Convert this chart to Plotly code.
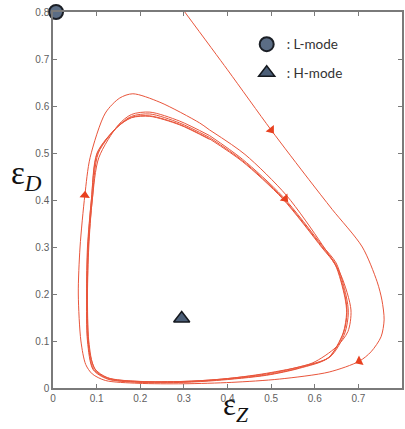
import plotly.graph_objects as go

# ---------------- data ----------------
x_ticks = [0, 0.1, 0.2, 0.3, 0.4, 0.5, 0.6, 0.7, 0.8]
y_ticks = [0, 0.1, 0.2, 0.3, 0.4, 0.5, 0.6, 0.7, 0.8]

# incoming trajectory from the top, going round the outermost loop
incoming_x = [0.302, 0.40, 0.50, 0.587, 0.64, 0.709, 0.743, 0.754, 0.759,
              0.752, 0.729, 0.702, 0.633, 0.519, 0.41, 0.30, 0.195, 0.12, 0.09,
              0.075, 0.064, 0.058, 0.062, 0.073, 0.085, 0.12, 0.153, 0.183,
              0.245, 0.336, 0.359]
incoming_y = [0.80, 0.677, 0.549, 0.443, 0.38, 0.30, 0.226, 0.187, 0.145,
              0.109, 0.077, 0.057, 0.034, 0.019, 0.012, 0.009, 0.010, 0.016, 0.03,
              0.05, 0.10, 0.20, 0.30, 0.41, 0.49, 0.585, 0.617, 0.626,
              0.608, 0.564, 0.549]

# second loop
loop2_x = [0.359, 0.44, 0.535, 0.617, 0.66, 0.683, 0.676, 0.649, 0.594, 0.50,
           0.40, 0.30, 0.20, 0.13, 0.10, 0.085, 0.08, 0.079, 0.082, 0.09,
           0.105, 0.15, 0.18, 0.222, 0.29, 0.359]
loop2_y = [0.549, 0.497, 0.41, 0.305, 0.24, 0.166, 0.12, 0.087, 0.053, 0.033,
           0.02, 0.014, 0.014, 0.02, 0.035, 0.07, 0.12, 0.20, 0.30, 0.40,
           0.49, 0.56, 0.582, 0.587, 0.568, 0.537]

# converged limit cycle passes
cycle1_x = [0.359, 0.434, 0.526, 0.617, 0.649, 0.672, 0.677, 0.669, 0.635, 0.565,
            0.489, 0.375, 0.30, 0.195, 0.125, 0.095, 0.082, 0.079, 0.081, 0.09,
            0.104, 0.149, 0.18, 0.222, 0.29, 0.359]
cycle1_y = [0.537, 0.487, 0.408, 0.303, 0.266, 0.196, 0.16, 0.117, 0.066, 0.045,
            0.030, 0.018, 0.014, 0.014, 0.022, 0.042, 0.10, 0.20, 0.30, 0.40,
            0.50, 0.557, 0.578, 0.583, 0.564, 0.533]
cycle2_x = [0.359, 0.434, 0.526, 0.617, 0.648, 0.670, 0.674, 0.666, 0.632, 0.565,
            0.489, 0.375, 0.30, 0.195, 0.125, 0.093, 0.080, 0.077, 0.080, 0.088,
            0.102, 0.147, 0.18, 0.222, 0.29, 0.359]
cycle2_y = [0.533, 0.484, 0.405, 0.300, 0.263, 0.194, 0.16, 0.117, 0.065, 0.043,
            0.028, 0.017, 0.013, 0.013, 0.020, 0.040, 0.10, 0.20, 0.30, 0.40,
            0.50, 0.555, 0.576, 0.579, 0.561, 0.530]
cycle3_x = [0.359, 0.434, 0.526, 0.617, 0.647, 0.669, 0.673, 0.665, 0.631, 0.565,
            0.489, 0.375, 0.30, 0.195, 0.125, 0.092, 0.079, 0.077, 0.079, 0.088,
            0.101, 0.146, 0.18, 0.222, 0.29, 0.359]
cycle3_y = [0.530, 0.482, 0.403, 0.298, 0.262, 0.193, 0.16, 0.117, 0.064, 0.042,
            0.027, 0.016, 0.012, 0.012, 0.019, 0.039, 0.10, 0.20, 0.30, 0.40,
            0.50, 0.554, 0.575, 0.578, 0.560, 0.529]

# direction arrows on the trajectory (position and heading in degrees)
arrow_x = [0.50, 0.532, 0.702, 0.073]
arrow_y = [0.549, 0.403, 0.057, 0.41]
arrow_angle = [142, 137, 244, 4]

# fixed points
lmode_x, lmode_y = [0.007], [0.80]
hmode_x, hmode_y = [0.295], [0.148]

# ---------------- figure ----------------
LINE = "#e9553b"
fig = go.Figure()

segments = [(incoming_x, incoming_y), (loop2_x, loop2_y), (cycle1_x, cycle1_y),
            (cycle2_x, cycle2_y), (cycle3_x, cycle3_y)]
for sx, sy in segments:
    fig.add_trace(go.Scatter(x=sx, y=sy, mode="lines",
                             line=dict(color=LINE, width=1, shape="spline", smoothing=0.8),
                             showlegend=False, hoverinfo="skip"))

fig.add_trace(go.Scatter(x=arrow_x, y=arrow_y, mode="markers",
                         marker=dict(symbol="triangle-up", size=9, color="#e8401f",
                                     angle=arrow_angle, line=dict(width=0)),
                         showlegend=False, hoverinfo="skip"))

fig.add_trace(go.Scatter(x=lmode_x, y=lmode_y, mode="markers",
                         name=":\u00a0L-mode", legendgroup="L",
                         marker=dict(symbol="circle", size=14, color="#5b6d85",
                                     line=dict(color="#1b1f26", width=2)),
                         cliponaxis=False))
fig.add_trace(go.Scatter(x=hmode_x, y=hmode_y, mode="markers",
                         name=":\u00a0H-mode", legendgroup="H",
                         marker=dict(symbol="triangle-up", size=14, color="#4c5f78",
                                     line=dict(color="#15191f", width=1.5)),
                         cliponaxis=False))

axis_common = dict(
    range=[0, 0.8], showgrid=False, zeroline=False,
    showline=True, linecolor="#7a7a7a", linewidth=1.5, mirror="ticks",
    ticks="inside", ticklen=4, tickcolor="#7a7a7a", tickwidth=1,
    tickfont=dict(family="Arial, Liberation Sans", size=10, color="#606060"),
)
fig.update_xaxes(tickvals=x_ticks, ticktext=[f"{v:g}" for v in x_ticks], **axis_common)
fig.update_yaxes(tickvals=y_ticks, ticktext=[f"{v:g}" for v in y_ticks], **axis_common)

fig.update_layout(
    width=405, height=429,
    margin=dict(l=53, r=1, t=12, b=41),
    paper_bgcolor="white", plot_bgcolor="white",
    showlegend=True,
    legend=dict(x=0.555, y=0.955, xanchor="left", yanchor="top",
                bgcolor="rgba(0,0,0,0)", traceorder="grouped", tracegroupgap=8,
                font=dict(family="Lato, Open Sans", size=13.5, color="#333333"),
                itemsizing="trace"),
    annotations=[
        dict(text="ε<sub><i>D</i></sub>", xref="paper", yref="paper",
             x=-0.125, y=0.565, xanchor="left", yanchor="middle", showarrow=False,
             font=dict(family="Liberation Serif, DejaVu Serif", size=33, color="#111111")),
        dict(text="ε<sub><i>Z</i></sub>", xref="paper", yref="paper",
             x=0.523, y=-0.109, xanchor="center", yanchor="bottom", showarrow=False,
             font=dict(family="Liberation Serif, DejaVu Serif", size=31, color="#111111")),
    ],
)

fig.write_html("out.html")
